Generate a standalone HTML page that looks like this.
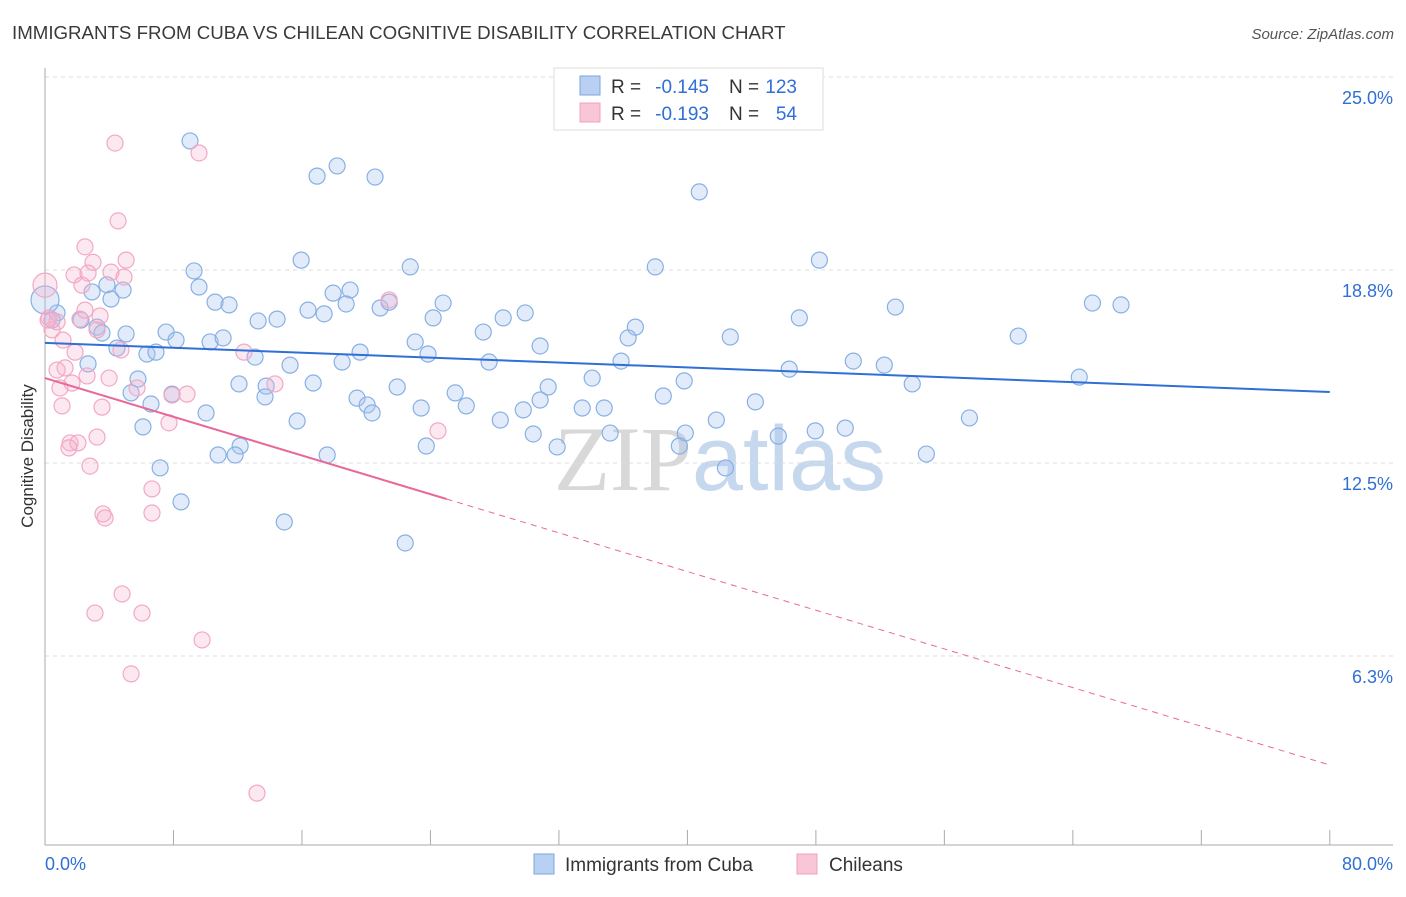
<!DOCTYPE html>
<html><head><meta charset="utf-8">
<style>
body{margin:0;background:#fff;font-family:"Liberation Sans",sans-serif;}
svg text{font-family:"Liberation Sans",sans-serif;}
</style></head>
<body>
<svg id="chart" width="1406" height="892" xmlns="http://www.w3.org/2000/svg">
<text x="12" y="39" font-size="18.7" fill="#3a3a3a">IMMIGRANTS FROM CUBA VS CHILEAN COGNITIVE DISABILITY CORRELATION CHART</text>
<text x="1394" y="39" font-size="15" fill="#555" font-style="italic" text-anchor="end">Source: ZipAtlas.com</text>
<text x="720" y="490" font-size="92" text-anchor="middle"><tspan fill="#d8d8d8" font-family="Liberation Serif">ZIP</tspan><tspan fill="#c6d8ee">atlas</tspan></text>
<text transform="translate(33,456) rotate(-90)" font-size="17" fill="#333" text-anchor="middle">Cognitive Disability</text>
<g id="grid"></g>
<g id="marks"></g>
<g>
<rect x="554" y="68" width="269" height="62" fill="#fff" stroke="#ddd"/>
<rect x="580" y="76" width="20" height="19" fill="#b9d0f2" stroke="#7aa6e0"/>
<rect x="580" y="103" width="20" height="19" fill="#f8c6d7" stroke="#f0a0c0"/>
<text x="611" y="93" font-size="19" fill="#333">R =</text>
<text x="709" y="93" font-size="19" fill="#2f6fd6" text-anchor="end">-0.145</text>
<text x="729" y="93" font-size="19" fill="#333">N =</text>
<text x="797" y="93" font-size="19" fill="#2f6fd6" text-anchor="end">123</text>
<text x="611" y="120" font-size="19" fill="#333">R =</text>
<text x="709" y="120" font-size="19" fill="#2f6fd6" text-anchor="end">-0.193</text>
<text x="729" y="120" font-size="19" fill="#333">N =</text>
<text x="797" y="120" font-size="19" fill="#2f6fd6" text-anchor="end">54</text>
</g>
<g>
<rect x="534" y="854" width="20" height="20" fill="#b9d0f2" stroke="#7aa6e0"/>
<text x="565" y="871" font-size="19" fill="#333">Immigrants from Cuba</text>
<rect x="797" y="854" width="20" height="20" fill="#f8c6d7" stroke="#f0a0c0"/>
<text x="829" y="871" font-size="19" fill="#333">Chileans</text>
</g>
</svg>
<script>
const cubaX=[9.03,18.19,16.94,20.55,40.74,9.28,15.95,22.74,38.0,48.22,9.59,4.86,3.86,2.93,4.11,17.94,19.0,10.59,11.46,16.38,18.75,20.87,21.43,24.79,29.9,65.22,67.0,52.95,0.75,0.44,2.24,3.24,5.05,3.55,7.54,8.16,10.28,11.09,13.27,14.45,17.38,24.17,28.53,27.29,36.76,42.67,46.97,60.6,4.48,6.35,6.91,13.08,15.26,18.5,19.62,23.05,23.85,27.65,30.83,35.87,36.31,50.33,52.26,46.34,2.68,5.79,5.36,7.91,12.08,13.77,16.7,13.7,21.93,25.54,31.33,34.07,39.8,64.4,54.0,6.6,6.1,10.03,15.7,19.43,20.06,20.37,23.42,26.23,28.35,29.78,30.83,33.45,34.82,38.5,44.23,41.8,30.4,31.89,35.19,39.87,39.5,45.66,47.96,49.83,57.56,12.15,10.78,11.84,17.57,23.74,7.17,42.37,54.88,8.47,14.9,22.43,0];
const cubaY=[22.93,22.12,21.79,21.76,21.28,18.72,19.07,18.85,18.85,19.07,18.2,18.1,18.27,18.04,17.81,18.0,18.1,17.71,17.62,17.45,17.65,17.52,17.71,17.68,17.36,17.68,17.62,17.55,17.36,17.13,17.13,16.9,16.68,16.71,16.74,16.48,16.42,16.55,17.1,17.16,17.33,17.2,17.2,16.74,16.9,16.58,17.2,16.61,16.22,16.03,16.09,15.93,15.67,15.77,16.09,16.42,16.03,15.77,16.29,15.8,16.55,15.8,15.67,15.54,15.71,15.22,14.77,14.73,15.06,14.99,15.09,14.64,14.96,14.77,14.96,15.25,15.16,15.28,15.06,14.41,13.67,14.12,13.86,14.6,14.38,14.12,14.28,14.35,13.89,14.22,14.54,14.28,14.28,14.67,14.48,13.89,13.44,13.02,13.47,13.47,13.05,13.37,13.54,13.63,13.96,13.05,12.76,12.76,12.76,13.05,12.34,12.34,12.79,11.24,10.59,9.91,17.78];
const chileX=[4.36,9.59,4.55,2.49,5.05,2.99,1.81,2.68,4.11,4.92,2.3,0,21.43,0.25,0.75,2.18,0.44,1.12,3.43,3.24,4.73,1.87,1.25,0.75,2.62,1.68,3.99,0.93,5.73,7.91,8.84,12.39,14.32,1.06,3.55,7.72,3.24,1.56,2.05,1.49,2.8,24.47,6.66,3.61,3.74,6.66,4.8,3.11,6.04,9.78,5.36,13.2,0.19,2.49];
const chileY=[22.86,22.54,20.34,19.5,19.07,19.0,18.59,18.65,18.68,18.52,18.26,18.26,17.78,17.2,17.07,17.16,16.81,16.48,17.26,16.81,16.16,16.09,15.58,15.51,15.32,15.09,15.25,14.93,14.93,14.7,14.73,16.09,15.06,14.35,14.31,13.8,13.34,13.15,13.15,12.99,12.4,13.54,11.66,10.85,10.72,10.88,8.26,7.64,7.64,6.77,5.67,1.81,17.13,17.45];
const yTicks=[25,18.75,12.5,6.25];
const yTickLabels=["25.0%","18.8%","12.5%","6.3%"];
const xTicks=[0,8,16,24,32,40,48,56,64,72,80];
const cubaTrend=[16.39,14.8];
const chileTrend=[15.25,2.72];
const chileSolidEnd=25;

const NS="http://www.w3.org/2000/svg";
const X=v=>45+v*16.06;
const Y=v=>463-(v-12.5)*30.88;
function mk(tag,attrs,parent){const e=document.createElementNS(NS,tag);for(const k in attrs)e.setAttribute(k,attrs[k]);parent.appendChild(e);return e;}
const grid=document.getElementById('grid'),marks=document.getElementById('marks');
yTicks.forEach((t,i)=>{
  const l=mk('line',{x1:45,x2:1393,y1:Y(t),y2:Y(t),stroke:'#ddd','stroke-dasharray':'4,4'},grid);
  
  
  const tx=mk('text',{x:1393,y:Y(t)+27,'font-size':18,fill:'#2f6fd6','text-anchor':'end'},grid);
  tx.textContent=yTickLabels[i];
  
  
});
const ax=mk('line',{x1:45,x2:1393,y1:845,y2:845,stroke:'#aaa'},grid);


const yax=mk('line',{x1:45,x2:45,y1:68,y2:845,stroke:'#aaa'},grid);


xTicks.forEach(t=>{
  const l=mk('line',{x1:X(t),x2:X(t),y1:830,y2:845,stroke:'#aaa'},grid);
  
  
});
const xl0=mk('text',{x:45,y:870,'font-size':18,fill:'#2f6fd6'},grid);xl0.textContent="0.0%";


const xl1=mk('text',{x:1393,y:870,'font-size':18,fill:'#2f6fd6','text-anchor':'end'},grid);xl1.textContent="80.0%";



cubaX.forEach((v,i)=>{
  const c=mk('circle',{cx:X(v),cy:Y(cubaY[i]),r:(v===0?14:8),fill:'rgba(170,198,240,0.35)',stroke:'#88b0e4','stroke-width':1.2},marks);
  
  
});
chileX.forEach((v,i)=>{
  const c=mk('circle',{cx:X(v),cy:Y(chileY[i]),r:(v===0?12:8),fill:'rgba(245,180,205,0.3)',stroke:'#f2a8c4','stroke-width':1.2},marks);
  
  
});
const bt=mk('line',{x1:X(0),y1:Y(cubaTrend[0]),x2:X(80),y2:Y(cubaTrend[1]),stroke:'#2f6fd6','stroke-width':2},marks);


const ct=v=>chileTrend[0]+(chileTrend[1]-chileTrend[0])*v/80;
const pt=mk('line',{x1:X(0),y1:Y(ct(0)),x2:X(chileSolidEnd),y2:Y(ct(chileSolidEnd)),stroke:'#e8689a','stroke-width':2},marks);


const pd=mk('line',{x1:X(chileSolidEnd),y1:Y(ct(chileSolidEnd)),x2:X(80),y2:Y(ct(80)),stroke:'#e8689a','stroke-width':1,'stroke-dasharray':'6,5'},marks);


</script>
</body></html>
